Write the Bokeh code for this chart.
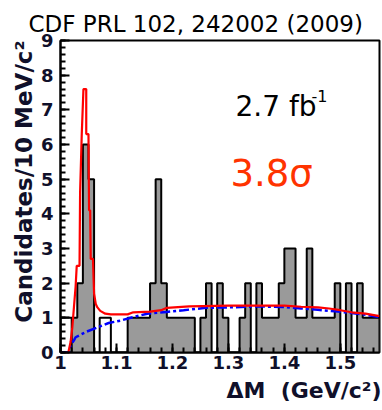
from bokeh.plotting import figure
from bokeh.models import Label, FixedTicker, Range1d, Title
from bokeh.embed import file_html
from bokeh.resources import INLINE

# ---------------- data ----------------
bin_start = 1.00          # GeV/c^2
bin_width = 0.01          # 10 MeV/c^2
counts = [1, 1, 1, 2, 6, 5, 0, 1, 1, 0,
          0, 0, 1, 1, 1, 1, 2, 5, 2, 1,
          1, 1, 1, 1, 0, 1, 2, 0, 2, 1,
          0, 0, 1, 2, 0, 2, 1, 1, 1, 2,
          3, 3, 1, 1, 3, 1, 1, 1, 1, 2,
          0, 2, 0, 2, 1, 1, 1]
open_bins = [0, 1, 7, 8]   # bins drawn as open (unshaded) boxes in the original

fit_x = [1.014, 1.018, 1.021, 1.024, 1.027, 1.029, 1.034, 1.035, 1.038, 1.041,
         1.046, 1.046, 1.050, 1.051, 1.053, 1.054, 1.058, 1.060, 1.063, 1.066,
         1.071, 1.080, 1.090, 1.120, 1.130, 1.160, 1.180, 1.190, 1.230, 1.300,
         1.400, 1.430, 1.460, 1.480, 1.500, 1.520, 1.545, 1.570]
fit_y = [0.0, 0.3, 0.7, 1.3, 1.9, 2.5, 2.5, 4.6, 6.3, 7.6,
         7.6, 6.3, 6.3, 4.1, 4.1, 2.7, 2.7, 1.7, 1.4, 1.3,
         1.2, 1.12, 1.10, 1.10, 1.16, 1.18, 1.22, 1.29, 1.33, 1.35,
         1.35, 1.32, 1.30, 1.27, 1.22, 1.16, 1.12, 1.05]

bkg_x = [1.000, 1.015, 1.018, 1.024, 1.027, 1.045, 1.067, 1.086, 1.107, 1.130,
         1.155, 1.190, 1.220, 1.260, 1.300, 1.350, 1.400, 1.430, 1.460, 1.490,
         1.520, 1.540, 1.570]
bkg_y = [0.0, 0.0, 0.2, 0.35, 0.44, 0.59, 0.73, 0.85, 0.92, 1.02,
         1.12, 1.17, 1.22, 1.29, 1.30, 1.33, 1.31, 1.27, 1.23, 1.19,
         1.14, 1.10, 1.02]

x_ticks = [1.0, 1.1, 1.2, 1.3, 1.4, 1.5]
x_tick_labels = ["1", "1.1", "1.2", "1.3", "1.4", "1.5"]
y_ticks = [0, 1, 2, 3, 4, 5, 6, 7, 8, 9]

title_text = "CDF PRL 102, 242002 (2009)"
y_label = "Candidates/10 MeV/c²"
x_label = "ΔM\u00a0\u00a0(GeV/c²)"
lumi_text = "2.7 fb"
lumi_exp = "-1"
signif_text = "3.8σ"

# ---------------- derived geometry ----------------
def step_path(vals):
    xs, ys = [edges[0]], [0]
    for i, c in enumerate(vals):
        xs += [edges[i], edges[i + 1]]
        ys += [c, c]
    xs.append(edges[-1])
    ys.append(0)
    return xs, ys

n = len(counts)
edges = [round(bin_start + bin_width * i, 4) for i in range(n + 1)]
out_x, out_y = step_path(counts)
filled = [0 if i in open_bins else c for i, c in enumerate(counts)]
fill_x, fill_y = step_path(filled)
# vertical separators where an open box touches a shaded bin
sep_x, sep_top = [], []
for i in range(1, n):
    if (i in open_bins) != (i - 1 in open_bins):
        sep_x.append(edges[i])
        sep_top.append(min(counts[i], counts[i - 1]))

tick_color = "#10102a"
font = "DejaVu Sans"

# ---------------- figure ----------------
p = figure(width=382, height=410, output_backend="svg", toolbar_location=None,
           x_range=Range1d(1.0, 1.57), y_range=Range1d(0, 9),
           min_border_left=60, min_border_right=3, min_border_top=40,
           min_border_bottom=58)
p.background_fill_color = "white"
p.border_fill_color = "white"
p.grid.visible = False
p.outline_line_color = "black"
p.outline_line_width = 2

p.title.text = title_text
p.title.align = "left"
p.title.offset = -32
p.title.text_font = font
p.title.text_font_size = "23px"
p.title.text_font_style = "normal"
p.title.text_color = "black"
p.title.standoff = 8

p.patch(fill_x, fill_y, fill_color="#9a9a9a", line_color=None)
p.line(out_x, out_y, line_color="black", line_width=2)
p.segment(x0=sep_x, y0=[0] * len(sep_x), x1=sep_x, y1=sep_top,
          line_color="black", line_width=2)
p.line(bkg_x, bkg_y, line_color="#0000ff", line_width=2.5, line_dash="10 3 3 3")
p.line(fit_x, fit_y, line_color="#ff0000", line_width=2.2)

xa = p.xaxis[0]
xa.ticker = FixedTicker(ticks=x_ticks,
                        minor_ticks=[round(1.0 + 0.02 * i, 2) for i in range(29)])
xa.major_label_overrides = {t: l for t, l in zip(x_ticks, x_tick_labels)}
ya = p.yaxis[0]
ya.ticker = FixedTicker(ticks=y_ticks,
                        minor_ticks=[round(0.2 * i, 1) for i in range(46)])
for ax in (xa, ya):
    ax.axis_line_width = 2
    ax.axis_line_color = "black"
    ax.major_tick_in = 9
    ax.major_tick_out = 0
    ax.minor_tick_in = 5
    ax.minor_tick_out = 0
    ax.major_tick_line_width = 2
    ax.minor_tick_line_width = 2
    ax.major_label_text_font = font
    ax.major_label_text_font_style = "bold"
    ax.major_label_text_font_size = "18px"
    ax.major_label_text_color = tick_color
xa.major_label_standoff = 3
ya.major_label_standoff = 7

p.add_layout(Title(text=y_label, align="right", text_font=font,
                   text_font_style="bold", text_font_size="23px",
                   text_color=tick_color, standoff=2), "left")
p.add_layout(Title(text=x_label, align="right", text_font=font,
                   text_font_style="bold", text_font_size="22px",
                   text_color=tick_color, standoff=9, offset=-2), "below")

p.add_layout(Label(x=175, y=246, x_units="screen", y_units="screen",
                   text=lumi_text, text_align="left", text_baseline="alphabetic",
                   text_font=font, text_font_size="28px", text_color="black"))
p.add_layout(Label(x=251, y=257, x_units="screen", y_units="screen",
                   text=lumi_exp, text_align="left", text_baseline="alphabetic",
                   text_font=font, text_font_size="16px", text_color="black"))
p.add_layout(Label(x=170, y=179, x_units="screen", y_units="screen",
                   text=signif_text, text_align="left", text_baseline="alphabetic",
                   text_font=font, text_font_size="37px", text_color="#ff3300"))

open("out.html", "w").write(file_html(p, INLINE))
